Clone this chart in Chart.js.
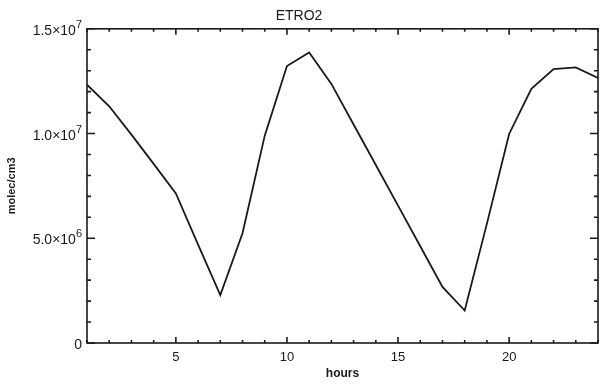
<!DOCTYPE html>
<html>
<head>
<meta charset="utf-8">
<title>ETRO2</title>
<script src="https://cdn.jsdelivr.net/npm/chart.js@4/dist/chart.umd.min.js"></script>
<style>
  html, body { margin: 0; padding: 0; background: #fff; }
  #chart { display: block; }
</style>
</head>
<body>
<canvas id="chart" width="600" height="385"></canvas>
<script>
// values, one per hour
const hours = [1, 2, 3, 4, 5, 6, 7, 8, 9, 10, 11, 12, 13, 14, 15, 16, 17, 18, 19, 20, 21, 22, 23, 24];
const etro2 = [12.33e6, 11.3e6, 9.95e6, 8.55e6, 7.14e6, 4.7e6, 2.29e6, 5.24e6, 9.9e6, 13.22e6, 13.87e6, 12.37e6,
               10.43e6, 8.5e6, 6.56e6, 4.62e6, 2.68e6, 1.55e6, 5.7e6, 9.98e6, 12.13e6, 13.08e6, 13.16e6, 12.65e6];

const xTickValues = [5, 10, 15, 20];
const yTickValues = [0, 5e6, 1e7, 1.5e7];
const yTickMantissa = ['0', '5.0\u00d710', '1.0\u00d710', '1.5\u00d710'];
const yTickExponent = ['', '6', '7', '7'];

const ink = '#1a1a1a';
const fontFamily = '"Liberation Sans", Arial, sans-serif';

// IDL style box with inward ticks on all four sides
const frameTicks = {
    id: 'frameTicks',
    afterDatasetsDraw(chart) {
        const { ctx, chartArea: a, scales } = chart;
        const x = scales.x, y = scales.y;
        ctx.save();
        ctx.strokeStyle = ink;
        ctx.lineWidth = 1.6;
        ctx.strokeRect(a.left, a.top, a.right - a.left, a.bottom - a.top);
        ctx.beginPath();
        for (let h = Math.ceil(x.min); h <= x.max; h++) {
            const px = x.getPixelForValue(h);
            const len = h % 5 === 0 ? 6 : 3;
            ctx.moveTo(px, a.bottom); ctx.lineTo(px, a.bottom - len);
            ctx.moveTo(px, a.top); ctx.lineTo(px, a.top + len);
        }
        for (let v = y.min; v <= y.max + 1; v += 1e6) {
            const py = y.getPixelForValue(v);
            const len = Math.round(v / 1e6) % 5 === 0 ? 8 : 4;
            ctx.moveTo(a.left, py); ctx.lineTo(a.left + len, py);
            ctx.moveTo(a.right, py); ctx.lineTo(a.right - len, py);
        }
        ctx.stroke();

        // y labels with a raised exponent, right aligned against the axis
        ctx.fillStyle = ink;
        ctx.textBaseline = 'alphabetic';
        yTickValues.forEach((v, i) => {
            const py = y.getPixelForValue(v);
            let right = a.left - 5;
            const base = py + 6;
            if (yTickExponent[i]) {
                ctx.font = '11px ' + fontFamily;
                ctx.textAlign = 'right';
                ctx.fillText(yTickExponent[i], right, base - 7);
                right -= ctx.measureText(yTickExponent[i]).width;
            }
            ctx.font = '14px ' + fontFamily;
            ctx.textAlign = 'right';
            ctx.fillText(yTickMantissa[i], right, base);
        });
        ctx.restore();
    }
};

new Chart(document.getElementById('chart'), {
    type: 'line',
    data: {
        datasets: [{
            label: 'ETRO2',
            data: hours.map((h, i) => ({ x: h, y: etro2[i] })),
            borderColor: ink,
            borderWidth: 1.8,
            pointRadius: 0,
            tension: 0,
            fill: false
        }]
    },
    options: {
        responsive: false,
        animation: false,
        layout: { padding: { top: 0, right: 2, bottom: 0, left: 0 } },
        plugins: {
            legend: { display: false },
            tooltip: { enabled: false },
            title: {
                display: true,
                text: 'ETRO2',
                color: ink,
                font: { family: fontFamily, size: 14, weight: 'normal' },
                padding: { top: 8, bottom: 4 }
            }
        },
        scales: {
            x: {
                type: 'linear',
                min: 1,
                max: 24,
                afterBuildTicks: (scale) => { scale.ticks = xTickValues.map(v => ({ value: v })); },
                afterFit: (scale) => { scale.height = 42; },
                grid: { display: false, drawTicks: false },
                border: { display: false },
                ticks: {
                    color: ink,
                    padding: 7,
                    maxRotation: 0,
                    font: { family: fontFamily, size: 13 },
                    callback: (v) => String(v)
                },
                title: {
                    display: true,
                    text: 'hours',
                    color: ink,
                    font: { family: fontFamily, size: 12, weight: 'bold' },
                    padding: { top: 0, bottom: 4 }
                }
            },
            y: {
                min: 0,
                max: 1.5e7,
                afterBuildTicks: (scale) => { scale.ticks = yTickValues.map(v => ({ value: v })); },
                afterFit: (scale) => { scale.width = 87; },
                grid: { display: false, drawTicks: false },
                border: { display: false },
                ticks: { display: false },
                title: {
                    display: true,
                    text: 'molec/cm3',
                    color: ink,
                    font: { family: fontFamily, size: 11, weight: 'bold' },
                    padding: { top: 5, bottom: 0 }
                }
            }
        }
    },
    plugins: [frameTicks]
});
</script>
</body>
</html>
